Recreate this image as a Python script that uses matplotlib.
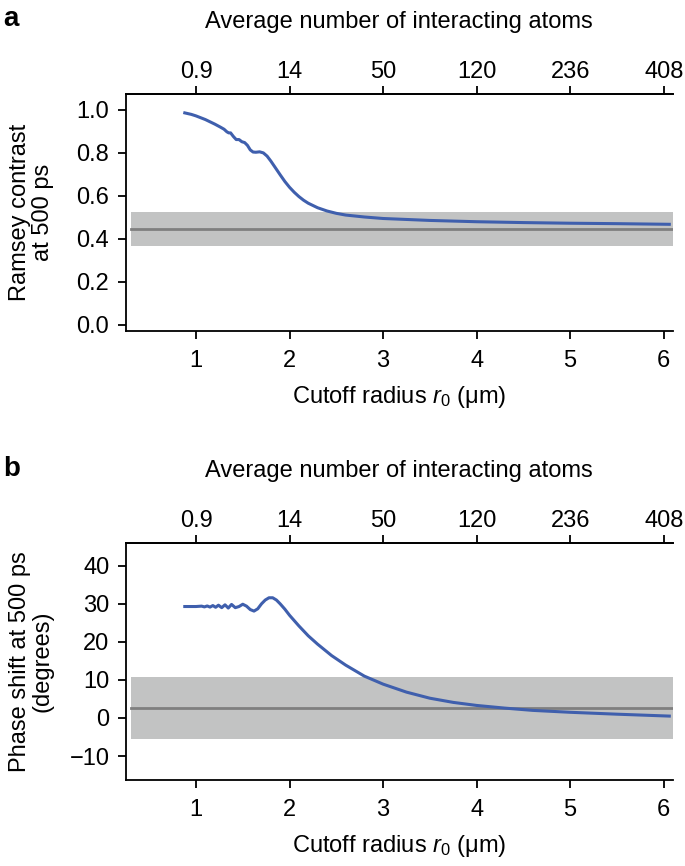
import numpy as np
import matplotlib
matplotlib.use("Agg")
import matplotlib.pyplot as plt

plt.rcParams['font.family'] = ['Liberation Sans', 'DejaVu Sans']
plt.rcParams['mathtext.fontset'] = 'custom'
plt.rcParams['mathtext.rm'] = 'Liberation Sans'
plt.rcParams['mathtext.it'] = 'Liberation Sans:italic'

# Panel a: Ramsey contrast vs cutoff radius
r_a = [0.88, 0.95, 1.0, 1.1, 1.2, 1.26, 1.30, 1.33, 1.35, 1.37, 1.40, 1.43, 1.46,
       1.49, 1.52, 1.55, 1.58, 1.61, 1.64, 1.68, 1.72, 1.76, 1.80, 1.85, 1.90,
       1.95, 2.00, 2.05, 2.10, 2.15, 2.20, 2.30, 2.40, 2.50, 2.60, 2.80, 3.00,
       3.50, 4.00, 4.50, 5.00, 5.50, 6.06]
contrast = [0.986, 0.979, 0.972, 0.955, 0.934, 0.920, 0.910, 0.898, 0.893, 0.893,
            0.876, 0.862, 0.862, 0.852, 0.848, 0.835, 0.814, 0.804, 0.803, 0.805,
            0.800, 0.785, 0.762, 0.730, 0.698, 0.667, 0.640, 0.617, 0.597, 0.580,
            0.566, 0.545, 0.530, 0.519, 0.511, 0.502, 0.495, 0.486, 0.480, 0.476,
            0.473, 0.471, 0.468]
contrast_exp = 0.447
contrast_band = (0.367, 0.526)

# Panel b: phase shift vs cutoff radius
r_b = [0.88, 1.00, 1.06, 1.09, 1.12, 1.15, 1.18, 1.21, 1.24, 1.275, 1.31, 1.345,
       1.38, 1.42, 1.46, 1.50, 1.54, 1.58, 1.62, 1.66, 1.70, 1.74, 1.78, 1.82,
       1.86, 1.90, 1.95, 2.00, 2.10, 2.20, 2.30, 2.45, 2.60, 2.80, 3.00, 3.25,
       3.50, 3.75, 4.00, 4.30, 4.60, 5.00, 5.50, 6.06]
phase = [29.3, 29.3, 29.4, 29.2, 29.45, 29.15, 29.55, 29.1, 29.65, 29.0, 29.75,
         28.9, 29.85, 29.0, 29.3, 29.9, 29.4, 28.5, 28.1, 28.7, 30.0, 31.0, 31.6,
         31.6, 31.0, 30.0, 28.6, 27.0, 24.2, 21.6, 19.4, 16.4, 13.9, 11.0, 8.9,
         6.8, 5.2, 4.1, 3.3, 2.6, 2.0, 1.5, 1.0, 0.5]
phase_exp = 2.6
phase_band = (-5.5, 10.8)

top_ticks = [1, 2, 3, 4, 5, 6]
top_labels = ['0.9', '14', '50', '120', '236', '408']

blue = '#3f5fad'
band_col = '#c2c3c3'
line_col = '#7f7f7f'
fs = 17

fig = plt.figure(figsize=(6.85, 8.66), dpi=100)
ax_a = fig.add_axes([0.184, 0.6178, 0.798, 0.2737])
ax_b = fig.add_axes([0.184, 0.0993, 0.798, 0.2737])


def style(ax, ylim, yticks, ylabel):
    ax.set_xlim(0.252, 6.096)
    ax.set_ylim(*ylim)
    ax.set_yticks(yticks)
    ax.set_xticks([1, 2, 3, 4, 5, 6])
    ax.spines['right'].set_visible(False)
    for s in ['left', 'bottom', 'top']:
        ax.spines[s].set_linewidth(1.3)
    ax.tick_params(direction='out', length=6, width=1.3, labelsize=fs, pad=6)
    ax.tick_params(axis='x', pad=8)
    ax.set_xlabel('Cutoff radius $r_0$ (\u03bcm)', fontsize=fs, labelpad=8)
    ax.set_ylabel(ylabel, fontsize=fs, linespacing=1.05)
    ax.yaxis.set_label_coords(-0.132, 0.5)
    top = ax.secondary_xaxis('top')
    top.set_xticks(top_ticks)
    top.set_xticklabels(top_labels)
    top.tick_params(direction='out', length=6, width=1.3, labelsize=fs, pad=2)
    top.spines['top'].set_linewidth(1.3)
    top.set_xlabel('Average number of interacting atoms', fontsize=fs, labelpad=24)


# panel a
ax_a.fill_between([0.305, 6.1], contrast_band[0], contrast_band[1],
                  color=band_col, lw=0, zorder=1)
ax_a.plot([0.305, 6.1], [contrast_exp, contrast_exp], color=line_col, lw=2, zorder=2)
ax_a.plot(r_a, contrast, color=blue, lw=2.2, zorder=3)
style(ax_a, (-0.028, 1.074), [0.0, 0.2, 0.4, 0.6, 0.8, 1.0],
      'Ramsey contrast\nat 500 ps')
ax_a.set_yticklabels(['0.0', '0.2', '0.4', '0.6', '0.8', '1.0'])

# panel b
ax_b.fill_between([0.305, 6.1], phase_band[0], phase_band[1],
                  color=band_col, lw=0, zorder=1)
ax_b.plot([0.305, 6.1], [phase_exp, phase_exp], color=line_col, lw=2, zorder=2)
ax_b.plot(r_b, phase, color=blue, lw=2.2, zorder=3)
style(ax_b, (-16.3, 46), [-10, 0, 10, 20, 30, 40],
      'Phase shift at 500 ps\n(degrees)')
ax_b.set_yticklabels(['\u221210', '0', '10', '20', '30', '40'])

fig.text(0.005, 0.978, 'a', fontsize=20, fontweight='bold', va='center')
fig.text(0.005, 0.458, 'b', fontsize=20, fontweight='bold', va='center')

fig.savefig('out.png', dpi=100)
